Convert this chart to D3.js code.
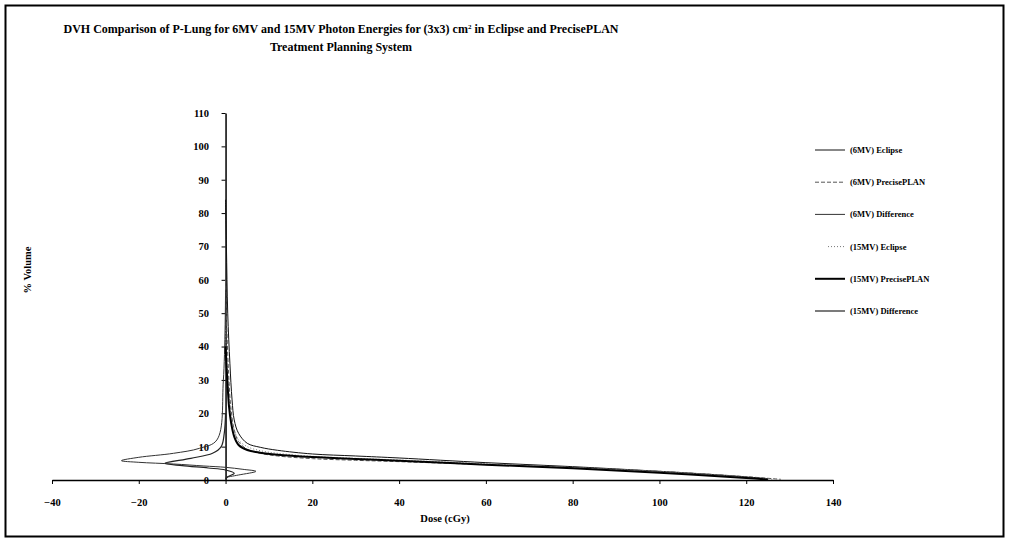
<!DOCTYPE html>
<html>
<head>
<meta charset="utf-8">
<script src="https://cdn.jsdelivr.net/npm/d3@7"></script>
<style>
body { margin: 0; background: white; }
svg text { font-family: "Liberation Serif", "Times New Roman", serif; font-weight: bold; fill: black; }
</style>
</head>
<body>
<script>
// series names (legend order)
var seriesNames = ["(6MV) Eclipse", "(6MV) PrecisePLAN", "(6MV) Difference",
                   "(15MV) Eclipse", "(15MV) PrecisePLAN", "(15MV) Difference"];

// dose (cGy) and % volume
var dose6E  = [0, 0.2, 0.5, 1, 1.5, 2, 3, 5, 8, 12, 20, 30, 40, 60, 80, 100, 115, 125];
var vol6E   = [84, 70, 50, 35, 24, 18, 14, 11, 9.8, 8.9, 7.8, 7.2, 6.6, 5.2, 4.0, 2.6, 1.4, 0.4];
var dose6P  = [0, 0.3, 0.7, 1.2, 2, 3, 5, 8, 12, 20, 30, 40, 60, 80, 100, 120, 128];
var vol6P   = [60, 45, 32, 22, 15, 11.5, 9.2, 8, 7.2, 6.4, 5.9, 5.5, 4.6, 3.7, 2.6, 1.0, 0.2];
var dose6D  = [0, -0.5, -2, -6, -12, -20, -24, -20, -12, -5, 0, 4, 7, 3, 0];
var vol6D   = [57, 30, 12, 9.5, 8, 6.8, 5.8, 5.3, 4.8, 4.2, 3.8, 3.2, 2.6, 1.5, 0.8];
var dose15E = [0, 0.3, 0.7, 1.2, 2, 3, 5, 8, 12, 20, 30, 40, 60, 80, 100, 120, 126];
var vol15E  = [45, 35, 27, 20, 15, 12, 10, 8.8, 8, 7.1, 6.5, 6.0, 4.9, 3.8, 2.6, 0.9, 0.2];
var dose15P = [0, 0.4, 0.8, 1.3, 2, 3, 5, 8, 12, 20, 30, 40, 60, 80, 100, 120, 125];
var vol15P  = [40, 30, 22, 17, 13, 10.5, 9, 8.2, 7.6, 6.9, 6.3, 5.8, 4.6, 3.5, 2.2, 0.6, 0.1];
var dose15D = [0, -0.3, -1, -3, -8, -14, -10, -4, 0, 2, 0.5, 0];
var vol15D  = [20, 14, 10, 8, 6.5, 5, 4.3, 3.6, 3, 2, 1, 0.3];

var xTicks = [-40, -20, 0, 20, 40, 60, 80, 100, 120, 140];
var yTicks = [0, 10, 20, 30, 40, 50, 60, 70, 80, 90, 100, 110];

var doses = [dose6E, dose6P, dose6D, dose15E, dose15P, dose15D];
var vols  = [vol6E, vol6P, vol6D, vol15E, vol15P, vol15D];

// line look per series
var strokes = ["#111", "#555", "#333", "#777", "#000", "#222"];
var widths  = [1, 1, 1, 1, 2, 1.2];
var dashes  = [null, "4,2", null, "1,2", null, null];

var w = 1010, h = 543;

var svg = d3.select("body").append("svg")
	.attr("width", w)
	.attr("height", h);

// outer frame
svg.append("rect")
	.attr("x", 5.5).attr("y", 5.5)
	.attr("width", 998).attr("height", 531)
	.attr("fill", "white")
	.attr("stroke", "black")
	.attr("stroke-width", 2);

var x = d3.scaleLinear().domain([-40, 140]).range([52, 833]);
var y = d3.scaleLinear().domain([0, 110]).range([480, 113]);

// title
svg.append("text")
	.attr("x", 341).attr("y", 33)
	.attr("text-anchor", "middle")
	.style("font-size", "12px")
	.text("DVH Comparison of P-Lung for 6MV and 15MV Photon Energies for (3x3) cm")
	.append("tspan").attr("dy", -4).style("font-size", "7px").text("2")
	.append("tspan").attr("dy", 4).style("font-size", "12px").text(" in Eclipse and PrecisePLAN");
svg.append("text")
	.attr("x", 341).attr("y", 51)
	.attr("text-anchor", "middle")
	.style("font-size", "12px")
	.text("Treatment Planning System");

// axes
var xAxis = d3.axisBottom(x).tickValues(xTicks).tickSize(4).tickSizeOuter(0);
var yAxis = d3.axisLeft(y).tickValues(yTicks).tickSize(4).tickSizeOuter(0);

var gx = svg.append("g").attr("transform", "translate(0," + y(0) + ")").call(xAxis);
var gy = svg.append("g").attr("transform", "translate(" + x(0) + ",0)").call(yAxis);

[gx, gy].forEach(function(g) {
	g.select(".domain").attr("stroke", "black").attr("stroke-width", 1.5);
	g.selectAll(".tick line").attr("stroke", "black");
	g.selectAll(".tick text")
		.style("font-family", "'Liberation Serif', serif")
		.style("font-weight", "bold")
		.style("font-size", "10.5px");
});
gx.selectAll(".tick text").attr("dy", "1.8em");
gy.selectAll(".tick text").attr("dx", "-0.9em");

// axis titles
svg.append("text")
	.attr("transform", "translate(31,270) rotate(-90)")
	.attr("text-anchor", "middle")
	.style("font-size", "10.5px")
	.text("% Volume");
svg.append("text")
	.attr("x", 445).attr("y", 522)
	.attr("text-anchor", "middle")
	.style("font-size", "10.5px")
	.text("Dose (cGy)");

// curves
var line = d3.line()
	.x(function(d) { return x(d[0]); })
	.y(function(d) { return y(d[1]); })
	.curve(d3.curveCatmullRom.alpha(0.5));

seriesNames.forEach(function(name, i) {
	var pts = doses[i].map(function(d, j) { return [d, vols[i][j]]; });
	svg.append("path")
		.datum(pts)
		.attr("d", line)
		.attr("fill", "none")
		.attr("stroke", strokes[i])
		.attr("stroke-width", widths[i])
		.attr("stroke-dasharray", dashes[i]);
});

// legend
var legend = svg.selectAll("g.legend").data(seriesNames).enter().append("g")
	.attr("class", "legend")
	.attr("transform", function(d, i) { return "translate(0," + (150 + i * 32.2) + ")"; });
legend.append("line")
	.attr("x1", function(d, i) { return i == 3 ? 828 : 815; })
	.attr("x2", 845)
	.attr("stroke", function(d, i) { return strokes[i]; })
	.attr("stroke-width", function(d, i) { return widths[i]; })
	.attr("stroke-dasharray", function(d, i) { return dashes[i]; });
legend.append("text")
	.attr("x", 850).attr("y", 3)
	.style("font-size", "8.5px")
	.text(function(d) { return d; });
</script>
</body>
</html>
